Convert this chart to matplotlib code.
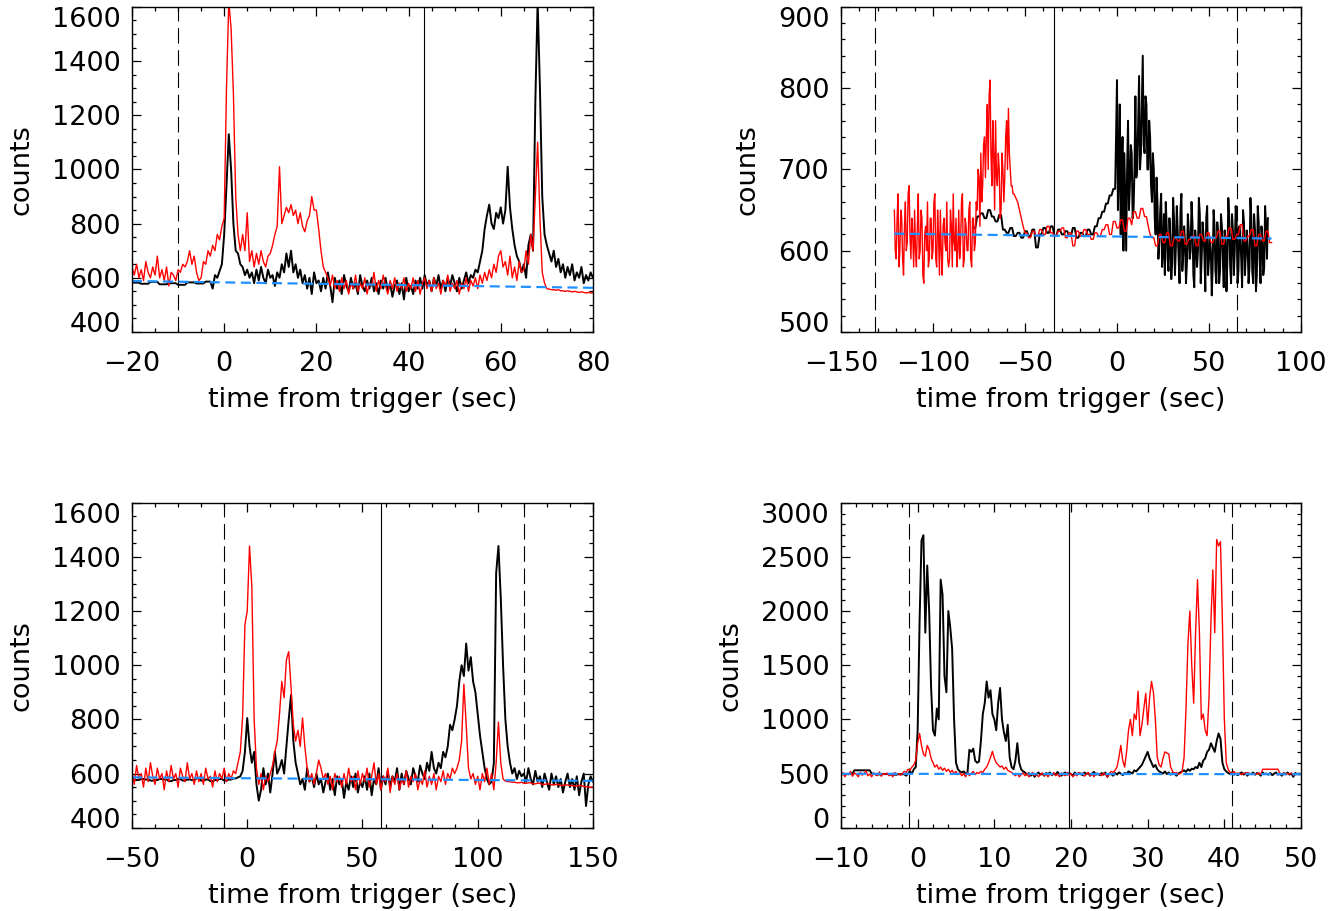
import matplotlib.pyplot as plt
import numpy as np
from matplotlib.ticker import MultipleLocator

plt.rcParams['font.family'] = 'DejaVu Sans'
plt.rcParams['font.size'] = 19.5

# ---- burst 1: 0.5 s bins starting at -20 s ----
black1 = [582, 582, 582, 582, 578, 578, 578, 578, 585, 585,
          585, 585, 576, 576, 576, 576, 580, 580, 580, 580,
          574, 574, 574, 574, 583, 583, 583, 583, 579, 579,
          579, 579, 586, 586, 586, 560, 610, 600, 625, 650,
          760, 940, 1130, 1000, 800, 700, 690, 650, 640, 610,
          630, 600, 620, 580, 630, 590, 640, 600, 580, 630,
          600, 610, 570, 620, 600, 650, 620, 690, 640, 700,
          620, 650, 600, 630, 580, 610, 560, 600, 540, 620,
          580, 590, 550, 600, 560, 620, 570, 510, 600, 560,
          590, 540, 610, 570, 550, 600, 560, 580, 540, 610,
          570, 550, 590, 560, 600, 550, 580, 540, 590, 560,
          600, 550, 580, 530, 570, 590, 540, 580, 520, 600,
          550, 570, 540, 590, 560, 600, 560, 610, 570, 590,
          550, 600, 570, 610, 560, 590, 550, 600, 570, 610,
          580, 550, 600, 560, 590, 620, 580, 610, 600, 630,
          620, 660, 700, 780, 830, 870, 800, 780, 840, 820,
          860, 800, 850, 1010, 860, 780, 720, 680, 660, 620,
          650, 600, 720, 760, 700, 1250, 1620, 1300, 900, 760,
          720, 690, 660, 700, 640, 670, 620, 650, 600, 640,
          610, 650, 590, 620, 600, 640, 580, 610, 590, 620,
          600]
red1 = [640, 610, 650, 600, 630, 590, 660, 620, 600, 640,
        610, 680, 600, 630, 590, 640, 570, 620, 610, 590,
        630, 620, 650, 640, 660, 700, 650, 680, 620, 590,
        600, 660, 650, 700, 680, 720, 700, 760, 740, 790,
        820, 1300, 1620, 1520, 1280, 900, 760, 700, 760, 700,
        840, 660, 700, 640, 690, 650, 700, 660, 640, 680,
        690, 720, 760, 790, 1010, 800, 830, 860, 840, 870,
        830, 850, 800, 840, 790, 770, 810, 830, 900, 850,
        850, 780, 700, 640, 620, 600, 570, 610, 560, 590,
        550, 600, 560, 590, 540, 580, 560, 610, 550, 580,
        560, 600, 540, 580, 570, 620, 550, 590, 560, 610,
        570, 540, 590, 560, 600, 550, 580, 560, 600, 550,
        580, 560, 600, 550, 590, 540, 580, 600, 560, 590,
        550, 600, 560, 580, 540, 590, 570, 610, 550, 580,
        560, 590, 540, 580, 560, 600, 550, 590, 570, 600,
        560, 610, 580, 620, 590, 630, 600, 650, 620, 680,
        700, 640, 660, 610, 680, 600, 640, 590, 660, 620,
        630, 700, 650, 760, 700, 900, 1100, 820, 620, 580,
        560, 558, 556, 556, 554, 556, 552, 552, 550, 552,
        550, 548, 550, 548, 546, 548, 546, 544, 546, 544,
        544]

# ---- burst 2 ----
# red: 0.5 s bins from -121 s, then 1 s bins from -56 s
red2_fine = [650, 600, 590, 640, 670, 580, 600, 650, 640, 590,
             570, 630, 660, 600, 610, 670, 680, 620, 590, 640,
             620, 580, 650, 600, 580, 630, 670, 590, 600, 650,
             640, 570, 560, 620, 630, 600, 660, 580, 590, 640,
             640, 590, 600, 660, 670, 590, 580, 650, 620, 570,
             650, 600, 570, 630, 640, 610, 600, 660, 590, 580,
             590, 650, 630, 580, 670, 610, 600, 640, 580, 600,
             650, 590, 610, 660, 670, 580, 590, 640, 630, 600,
             600, 650, 660, 590, 580, 640, 640, 600, 610, 660,
             650, 700, 690, 630, 720, 660, 680, 730, 740, 690,
             740, 780, 700, 790, 810, 720, 680, 760, 720, 650,
             760, 690, 680, 720, 700, 640, 650, 720, 700, 660,
             690, 740, 760, 700, 775, 720, 700, 680, 680, 670]
red2 = [670, 665, 660, 650, 640,
        630, 622, 622, 616, 616, 624, 624, 618, 618, 626,
        626, 620, 620, 630, 630, 622, 622, 618, 618, 624,
        624, 628, 628, 616, 616, 622, 622, 606, 606, 624,
        624, 618, 618, 626, 626, 620, 620, 614, 614, 622,
        622, 618, 618, 626, 626, 632, 632, 620, 620, 636,
        636, 628, 628, 638, 638, 624, 624, 640, 640, 632,
        648, 648, 640, 640, 652, 652, 642, 642, 630, 620,
        616, 616, 606, 606, 620, 620, 610, 610, 622, 622,
        606, 606, 616, 616, 612, 612, 624, 624, 608, 608,
        614, 614, 618, 618, 606, 606, 620, 620, 612, 612,
        622, 622, 610, 610, 616, 616, 624, 624, 608, 608,
        618, 618, 628, 628, 614, 614, 620, 620, 632, 632,
        612, 612, 618, 618, 626, 626, 606, 606, 620, 620,
        612, 612, 624, 624, 610, 610]
# black: 1 s bins from -78 s, then 0.5 s bins from 0 s
black2 = [628, 628, 642, 642, 646, 646, 640, 640, 650, 650,
          642, 642, 636, 636, 644, 644, 626, 626, 622, 622,
          628, 628, 618, 618, 622, 622, 616, 616, 624, 624,
          618, 618, 626, 626, 604, 604, 620, 620, 628, 628,
          622, 622, 630, 630, 618, 618, 626, 626, 620, 620,
          624, 624, 618, 618, 628, 628, 616, 616, 622, 622,
          618, 618, 626, 626, 620, 620, 630, 630, 640, 640,
          648, 648, 658, 658, 668, 668, 676, 676]
black2_fine = [810, 650, 700, 780, 620, 690, 740, 600, 720, 660,
               600, 700, 760, 650, 680, 730, 720, 640, 650, 700,
               790, 690, 700, 760, 815, 700, 720, 780, 840, 730,
               720, 790, 780, 700, 700, 760, 740, 680, 660, 720,
               700, 640, 620, 690, 660, 590, 610, 650, 670, 580,
               600, 645, 570, 660, 630, 590, 575, 640, 615, 565,
               585, 665, 640, 570, 605, 655, 625, 590, 560, 650,
               670, 575, 595, 630, 610, 560, 585, 645, 625, 590,
               600, 660, 635, 570, 555, 625, 610, 580, 600, 665,
               645, 560, 590, 635, 620, 595, 550, 640, 655, 570,
               590, 615, 600, 545, 580, 650, 630, 575, 560, 635,
               620, 560, 575, 645, 630, 590, 555, 625, 610, 550,
               590, 665, 640, 580, 560, 645, 625, 570, 600, 655,
               640, 560, 575, 630, 615, 590, 555, 650, 635, 570,
               595, 625, 605, 560, 580, 665, 640, 575, 560, 645,
               625, 550, 570, 655, 635, 590, 560, 630, 615, 570,
               580, 655, 630, 590, 640]

# ---- burst 3: 1 s bins starting at -50 s ----
black3 = [578, 578, 576, 576, 580, 580, 578, 578, 574, 574,
          576, 576, 580, 580, 578, 578, 572, 572, 576, 576,
          580, 580, 574, 574, 578, 578, 576, 576, 582, 582,
          574, 574, 578, 578, 572, 572, 576, 576, 580, 580,
          574, 574, 578, 578, 582, 582, 586, 590, 610, 680,
          805, 700, 640, 680, 560, 500, 540, 620, 560, 600,
          530, 600, 680, 600, 620, 650, 600, 700, 800, 890,
          720, 640, 600, 560, 580, 540, 620, 570, 590, 550,
          600, 560, 580, 530, 570, 600, 540, 580, 520, 590,
          560, 580, 510, 570, 540, 590, 550, 600, 530, 570,
          550, 590, 540, 600, 520, 580, 560, 620, 540, 590,
          560, 610, 550, 590, 570, 620, 540, 600, 560, 610,
          580, 560, 620, 590, 570, 630, 600, 580, 640, 610,
          680, 620, 600, 640, 620, 680, 660, 700, 780, 760,
          800, 850, 940, 1000, 960, 1080, 980, 1030, 940, 900,
          820, 740, 680, 620, 580, 560, 570, 640, 1340, 1440,
          1250, 1000, 800, 700, 640, 600, 620, 580, 610, 590,
          600, 570, 620, 580, 560, 610, 570, 590, 550, 600,
          570, 540, 600, 560, 590, 550, 580, 530, 570, 600,
          550, 580, 540, 590, 520, 570, 600, 480, 560, 590,
          570]
red3 = [610, 560, 630, 580, 600, 550, 620, 570, 640, 590,
        560, 620, 580, 600, 540, 610, 570, 630, 580, 600,
        550, 620, 590, 570, 640, 580, 600, 560, 610, 570,
        600, 560, 620, 580, 590, 550, 610, 570, 600, 580,
        620, 570, 600, 580, 610, 600, 640, 680, 810, 1150,
        1200, 1440, 1290, 800, 620, 560, 600, 540, 590, 570,
        600, 630, 680, 720, 820, 940, 880, 1020, 1050, 920,
        780, 720, 760, 700, 805, 700, 620, 570, 600, 560,
        600, 650, 620, 580, 600, 560, 590, 540, 600, 570,
        590, 550, 600, 560, 620, 570, 590, 540, 610, 560,
        600, 570, 620, 550, 590, 640, 560, 600, 540, 590,
        570, 620, 530, 590, 560, 600, 540, 580, 560, 610,
        550, 590, 570, 600, 540, 580, 560, 610, 550, 590,
        560, 600, 540, 590, 570, 610, 560, 600, 580, 620,
        600, 620, 650, 720, 930, 780, 620, 580, 600, 560,
        590, 540, 600, 570, 620, 560, 600, 540, 640, 790,
        640, 580, 572, 570, 570, 568, 568, 566, 566, 568,
        564, 564, 566, 566, 562, 562, 564, 564, 560, 560,
        562, 562, 558, 558, 560, 560, 556, 556, 558, 558,
        556, 556, 554, 554, 556, 556, 552, 552, 550, 550,
        550]

# ---- burst 4: 0.25 s bins starting at -10 s ----
black4 = [495, 495, 495, 495, 498, 498, 498, 530,
          530, 530, 530, 530, 530, 530, 530, 530,
          500, 500, 492, 492, 492, 492, 496, 496,
          496, 496, 490, 490, 490, 490, 494, 494,
          494, 494, 480, 500, 520, 500, 540, 560,
          900, 1900, 2650, 2700, 1800, 2420, 2000, 1300,
          900, 850, 1100, 1000, 2290, 2150, 1400, 1250,
          2000, 1850, 1650, 1000, 600, 540, 520, 510,
          520, 500, 510, 720, 700, 730, 620, 600,
          610, 800, 1050, 1150, 1350, 1200, 1270, 1050,
          1000, 900, 1150, 1290, 1000, 880, 800, 950,
          650, 560, 540, 620, 780, 600, 540, 520,
          510, 490, 505, 480, 500, 470, 495, 510,
          490, 500, 480, 505, 495, 510, 485, 500,
          490, 515, 495, 480, 500, 510, 490, 505,
          495, 480, 510, 490, 505, 500, 485, 510,
          495, 505, 480, 500, 515, 490, 500, 485,
          505, 490, 510, 470, 500, 495, 480, 505,
          490, 510, 500, 485, 505, 495, 520, 510,
          500, 530, 520, 540, 560, 580, 620, 660,
          700, 640, 600, 560, 580, 540, 520, 510,
          500, 520, 495, 510, 490, 505, 500, 480,
          500, 510, 520, 530, 515, 540, 525, 545,
          540, 560, 550, 600, 560, 620, 640, 700,
          720, 780, 740, 700, 800, 870, 820, 600,
          540, 520, 505, 495, 510, 490, 500, 485,
          500, 510, 490, 505, 480, 500, 495, 510,
          490, 505, 500, 480, 510, 495, 500, 490,
          505, 485, 500, 510, 490, 500, 480, 505,
          495, 510, 490, 500, 470, 505, 495, 500,
          495]
red4 = [480, 510, 470, 500, 490, 520, 475, 505,
        495, 470, 510, 485, 500, 525, 480, 495,
        470, 505, 490, 480, 515, 475, 500, 490,
        505, 480, 495, 470, 510, 490, 500, 485,
        500, 520, 510, 540, 530, 560, 580, 620,
        780, 870, 760, 680, 660, 760, 720, 640,
        600, 560, 580, 540, 560, 530, 550, 520,
        540, 510, 530, 500, 520, 490, 510, 480,
        500, 470, 510, 480, 500, 520, 490, 510,
        500, 520, 510, 540, 560, 600, 650, 705,
        640, 600, 580, 560, 570, 540, 560, 530,
        520, 510, 495, 480, 500, 470, 490, 505,
        480, 500, 470, 495, 510, 480, 500, 470,
        490, 505, 480, 495, 470, 500, 485, 510,
        480, 495, 470, 505, 490, 480, 510, 485,
        500, 470, 495, 480, 510, 490, 505, 475,
        495, 510, 480, 500, 470, 505, 490, 500,
        480, 505, 490, 470, 500, 520, 510, 530,
        560, 650, 760, 620, 560, 700, 900, 1000,
        850, 1050, 1000, 1260, 850, 950, 1100, 1240,
        950, 1200, 1350, 1250, 1000, 650, 580, 560,
        640, 700, 690, 680, 560, 520, 500, 510,
        495, 500, 520, 650, 1100, 1700, 2000, 1500,
        1150, 1800, 2290, 1800, 1000, 1050, 900, 850,
        1200, 1900, 2380, 1800, 2660, 2600, 2640, 1900,
        1000, 600, 540, 510, 500, 520, 495, 505,
        500, 490, 505, 495, 510, 500, 490, 500,
        500, 495, 505, 490, 540, 540, 540, 540,
        540, 540, 540, 540, 540, 500, 495, 505,
        490, 500, 495, 505, 485, 500, 495, 490,
        500]

# background fits (start/end) and marker times
bg1_t, bg1_c = [-20, 80], [588, 563]
bg2_t, bg2_c = [-121, 84], [621, 615]
bg3_t, bg3_c = [-50, 150], [586, 573]
bg4_t, bg4_c = [-10, 50], [498, 494]
dashed1, solid1 = [-10], [43.3]
dashed2, solid2 = [-131.5, 65], [-34]
dashed3, solid3 = [-10, 120], [58]
dashed4, solid4 = [-1.1, 41], [19.8]


def draw_panel(ax, t_k, black, t_r, red, bg_t, bg_c, dashed, solid,
               xlim, ylim, xstep, xminor, ystep, yminor):
    for x in dashed:
        ax.axvline(x, color='k', lw=0.8, dashes=(14, 6))
    for x in solid:
        ax.axvline(x, color='k', lw=0.8)
    ax.plot(t_k, black, color='k', lw=1.4)
    ax.plot(t_r, red, color='#ff0000', lw=1.0)
    ax.plot(bg_t, bg_c, color='#1e90ff', lw=1.6, dashes=(4.5, 2.5))
    ax.set_xlim(xlim)
    ax.set_ylim(ylim)
    ax.set_xticks(np.arange(xlim[0], xlim[1] + xstep / 2, xstep))
    ax.set_yticks(np.arange(ylim[0], ylim[1] + ystep / 2, ystep))
    ax.xaxis.set_minor_locator(MultipleLocator(xminor))
    ax.yaxis.set_minor_locator(MultipleLocator(yminor))
    ax.tick_params(which='both', direction='in', top=True, right=True, width=0.9)
    ax.tick_params(which='major', length=6.5)
    ax.tick_params(which='minor', length=3.2)
    ax.tick_params(axis='x', pad=14)
    ax.tick_params(axis='y', pad=8)
    for s in ax.spines.values():
        s.set_linewidth(1.0)
    labels = ax.get_yticklabels()
    labels[0].set_va('baseline')
    labels[-1].set_va('top')
    ax.set_xlabel('time from trigger (sec)', labelpad=7)
    ax.set_ylabel('counts', labelpad=13)


fig = plt.figure(figsize=(13.4, 9.11), dpi=100)
ax1 = fig.add_axes([0.0985, 0.6356, 0.344, 0.3568])
ax2 = fig.add_axes([0.6276, 0.6356, 0.3433, 0.3568])
ax3 = fig.add_axes([0.0985, 0.0914, 0.344, 0.3568])
ax4 = fig.add_axes([0.6276, 0.0914, 0.3433, 0.3568])

draw_panel(ax1, -20 + 0.5 * np.arange(len(black1)), black1,
           -20 + 0.5 * np.arange(len(red1)), red1,
           bg1_t, bg1_c, dashed1, solid1, (-20, 80), (400, 1600), 20, 5, 200, 50)

t_k2 = np.concatenate([-78 + np.arange(len(black2)), 0.5 * np.arange(len(black2_fine))])
t_r2 = np.concatenate([-121 + 0.5 * np.arange(len(red2_fine)), -56 + np.arange(len(red2))])
draw_panel(ax2, t_k2, black2 + black2_fine, t_r2, red2_fine + red2,
           bg2_t, bg2_c, dashed2, solid2, (-150, 100), (500, 900), 50, 10, 100, 20)

draw_panel(ax3, -50 + np.arange(len(black3)), black3, -50 + np.arange(len(red3)), red3,
           bg3_t, bg3_c, dashed3, solid3, (-50, 150), (400, 1600), 50, 10, 200, 50)
draw_panel(ax4, -10 + 0.25 * np.arange(len(black4)), black4,
           -10 + 0.25 * np.arange(len(red4)), red4,
           bg4_t, bg4_c, dashed4, solid4, (-10, 50), (0, 3000), 10, 2, 500, 100)

fig.savefig('out.png', dpi=100)
